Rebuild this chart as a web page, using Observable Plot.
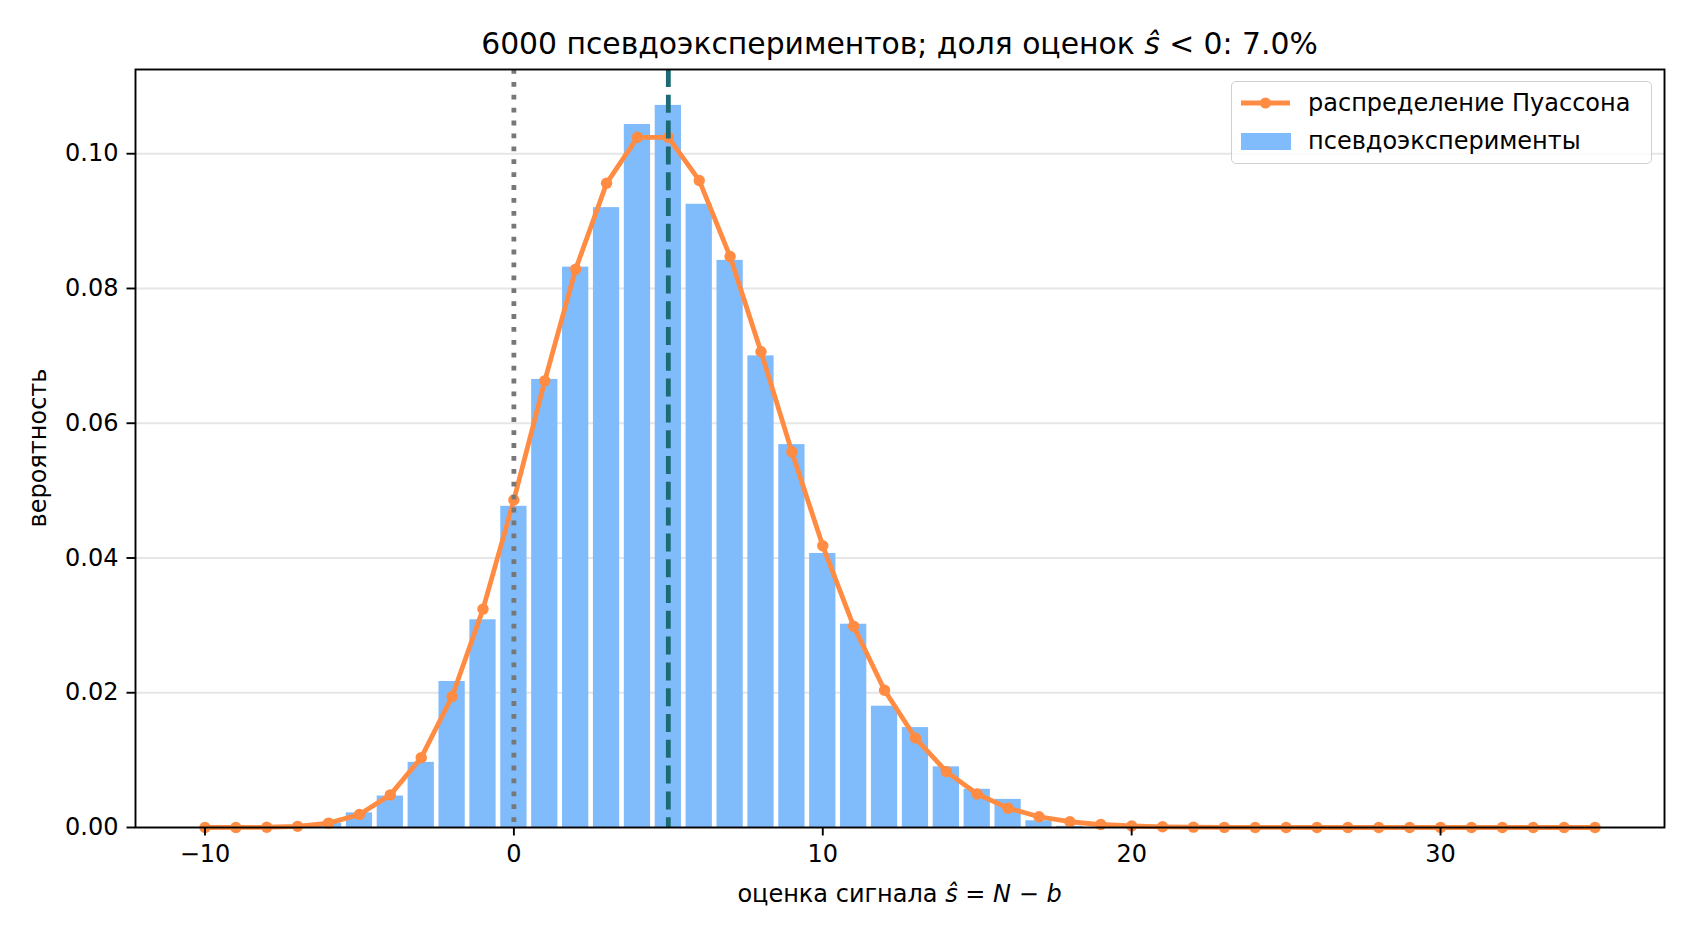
<!DOCTYPE html>
<html>
<head>
<meta charset="utf-8">
<script src="https://cdn.jsdelivr.net/npm/d3@7"></script>
<script src="https://cdn.jsdelivr.net/npm/@observablehq/plot@0.6"></script>
<style>
  html, body { margin: 0; padding: 0; background: #fff; }
  #wrap { position: relative; width: 1692px; height: 936px; background: #fff; font-family: "DejaVu Sans", sans-serif; color: #000; }
  #title { position: absolute; top: 27px; left: 135px; width: 1529px; text-align: center; font-size: 29.8px; line-height: 34px; white-space: nowrap; }
  #plot { position: absolute; top: 56px; left: 0; }
  #xlabel { position: absolute; top: 879px; left: 135px; width: 1529px; text-align: center; font-size: 24px; line-height: 30px; white-space: nowrap; }
  #ylabel { position: absolute; left: 38px; top: 448px; transform: translate(-50%, -50%) rotate(-90deg); font-size: 24px; line-height: 30px; white-space: nowrap; }
  #legend { position: absolute; left: 1231px; top: 81px; width: 421px; height: 83px; border: 1.5px solid #d0d0d0; border-radius: 5px; background: rgba(255,255,255,0.8); box-sizing: border-box; font-size: 24px; }
  .row { position: absolute; left: 0; height: 30px; line-height: 30px; white-space: nowrap; }
  .row svg { position: absolute; left: 8px; top: 0; }
  .row span { position: absolute; left: 76px; top: 0; }
  i { font-style: italic; }
</style>
</head>
<body>
<div id="wrap">
  <div id="title">6000 псевдоэкспериментов; доля оценок <i>ŝ</i> &lt; 0: 7.0%</div>
  <div id="plot"></div>
  <div id="xlabel">оценка сигнала <i>ŝ</i> = <i>N</i> − <i>b</i></div>
  <div id="ylabel">вероятность</div>
  <div id="legend">
    <div class="row" style="top:6px">
      <svg width="52" height="30"><line x1="1" x2="50" y1="15" y2="15" stroke="#ff8c42" stroke-width="4.8"/><circle cx="25.5" cy="15" r="5.5" fill="#ff8c42"/></svg>
      <span id="leg1"></span>
    </div>
    <div class="row" style="top:44px">
      <svg width="52" height="30"><rect x="1" y="7" width="50" height="17" fill="#80bbfc"/></svg>
      <span id="leg2"></span>
    </div>
  </div>
</div>
<script>
// ---- data ----
const histS = [-7, -6, -5, -4, -3, -2, -1, 0, 1, 2, 3, 4, 5, 6, 7, 8, 9, 10, 11, 12, 13, 14, 15, 16, 17, 18];
const histP = [0.00033, 0.00067, 0.00217, 0.00467, 0.00967, 0.02167, 0.03083, 0.04767, 0.0665, 0.08317,
               0.0920, 0.10433, 0.10717, 0.0925, 0.08417, 0.0700, 0.05683, 0.04067, 0.03017, 0.0180,
               0.01483, 0.0090, 0.00567, 0.00417, 0.0010, 0.00017];

const poisS = [-10, -9, -8, -7, -6, -5, -4, -3, -2, -1, 0, 1, 2, 3, 4, 5, 6, 7, 8, 9, 10, 11, 12, 13, 14,
               15, 16, 17, 18, 19, 20, 21, 22, 23, 24, 25, 26, 27, 28, 29, 30, 31, 32, 33, 34, 35];
const poisP = [0.0000003, 0.0000046, 0.0000344, 0.000172, 0.000645, 0.001936, 0.004839, 0.01037, 0.019444, 0.032407,
               0.048611, 0.066287, 0.082859, 0.095607, 0.102436, 0.102436, 0.096034, 0.084736, 0.070613, 0.055747,
               0.04181, 0.029865, 0.020362, 0.01328, 0.0083, 0.00498, 0.002873, 0.001596, 0.000855, 0.000442,
               0.000221, 0.000107, 0.0000502, 0.0000228, 0.00001, 0.0000043, 0.0000018, 0.0000007, 0.0000003, 0.0000001,
               0.0, 0.0, 0.0, 0.0, 0.0, 0.0];

const xTicks = [-10, 0, 10, 20, 30];
const yTicks = [0, 0.02, 0.04, 0.06, 0.08, 0.10];
const trueSignal = [5];
const zeroLine = [0];
const legendLabels = ["распределение Пуассона", "псевдоэксперименты"];

// ---- tables ----
const hist = histS.map((s, i) => ({s, p: histP[i]}));
const pois = poisS.map((s, i) => ({s, p: poisP[i]}));
const halfWidth = 0.425;

document.getElementById("leg1").textContent = legendLabels[0];
document.getElementById("leg2").textContent = legendLabels[1];

const chart = Plot.plot({
  width: 1692,
  height: 880,
  marginTop: 13,
  marginBottom: 109,
  marginLeft: 135,
  marginRight: 28,
  style: {fontFamily: "DejaVu Sans", fontSize: "24px", color: "#000", background: "transparent", overflow: "visible"},
  x: {domain: [-12.25, 37.25], label: null},
  y: {domain: [0, 0.1125], label: null},
  marks: [
    Plot.gridY(yTicks, {stroke: "#e6e6e6", strokeOpacity: 1, strokeWidth: 1.9}),
    Plot.rectY(hist, {x1: d => d.s - halfWidth, x2: d => d.s + halfWidth, y: "p", fill: "#80bbfc"}),
    Plot.line(pois, {x: "s", y: "p", stroke: "#ff8c42", strokeWidth: 4.8}),
    Plot.dot(pois, {x: "s", y: "p", r: 5.7, fill: "#ff8c42", stroke: "none"}),
    Plot.ruleX(zeroLine, {stroke: "#777777", strokeWidth: 4.8, strokeDasharray: "4.8,8.1"}),
    Plot.ruleX(trueSignal, {stroke: "#1c6b74", strokeWidth: 4.8, strokeDasharray: "18,7.8"}),
    Plot.frame({stroke: "#000", strokeWidth: 1.9}),
    Plot.axisX({ticks: xTicks, tickSize: 8.5, tickPadding: 8.5, strokeWidth: 1.9, label: null, fontSize: 24}),
    Plot.axisY({ticks: yTicks, tickFormat: d3.format(".2f"), tickSize: 8.5, tickPadding: 8.5, strokeWidth: 1.9, label: null, fontSize: 24})
  ]
});
document.getElementById("plot").appendChild(chart);
</script>
</body>
</html>
